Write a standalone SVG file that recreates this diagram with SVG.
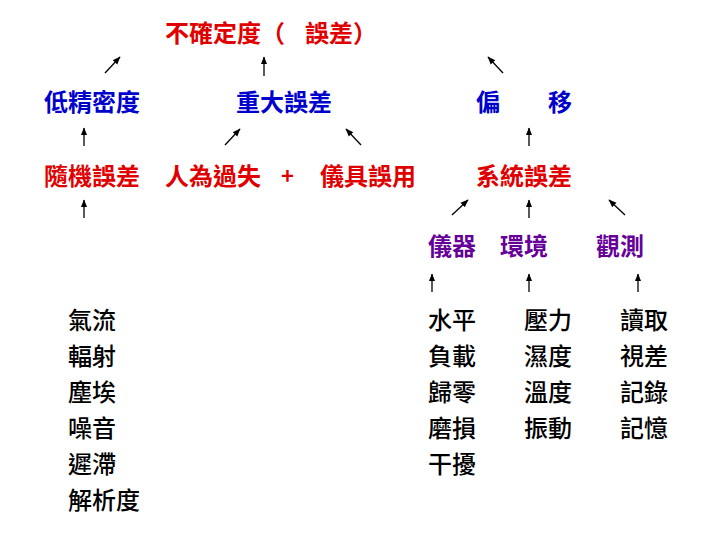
<svg xmlns="http://www.w3.org/2000/svg" width="720" height="540" viewBox="0 0 720 540">
<style>
text{font-family:"Noto Sans CJK TC","Noto Sans CJK SC",sans-serif;font-size:24px}
.r{fill:#e00000;font-weight:700}
.b{fill:#0000cc;font-weight:700}
.p{fill:#660099;font-weight:700}
.k{fill:#000;font-weight:500}
.c line{stroke:#000;stroke-width:1.3;marker-end:url(#ah)}
</style>
<defs>
<marker id="ah" markerUnits="userSpaceOnUse" markerWidth="9" markerHeight="9" refX="6.5" refY="4" orient="auto" viewBox="0 0 8 8">
<path d="M0,1.2 L7,4 L0,6.8 Z" fill="#000"/>
</marker>
</defs>
<rect width="720" height="540" fill="#fff"/>
<g id="title"><text class="r" x="165" y="42">不確定度（ <tspan x="305">誤差）</tspan></text></g>
<g id="n-low"><text class="b" x="44" y="111">低精密度</text></g>
<g id="n-major"><text class="b" x="236" y="111">重大誤差</text></g>
<g id="n-bias"><text class="b" x="476" y="111">偏</text><text class="b" x="548" y="111">移</text></g>
<g id="n-random"><text class="r" x="44" y="185">隨機誤差</text></g>
<g id="n-human"><text class="r" x="165" y="185">人為過失</text></g>
<g id="n-plus"><text class="r" x="281" y="184" style="font-size:22px">+</text></g>
<g id="n-misuse"><text class="r" x="320" y="185">儀具誤用</text></g>
<g id="n-system"><text class="r" x="476" y="185">系統誤差</text></g>
<g id="n-inst"><text class="p" x="428" y="255">儀器</text></g>
<g id="n-env"><text class="p" x="500" y="255">環境</text></g>
<g id="n-obs"><text class="p" x="596" y="255">觀測</text></g>
<g id="list-random">
<text class="k" x="68" y="329">氣流</text>
<text class="k" x="68" y="365">輻射</text>
<text class="k" x="68" y="401">塵埃</text>
<text class="k" x="68" y="437">噪音</text>
<text class="k" x="68" y="473">遲滯</text>
<text class="k" x="68" y="509">解析度</text>
</g>
<g id="list-inst">
<text class="k" x="428" y="329">水平</text>
<text class="k" x="428" y="365">負載</text>
<text class="k" x="428" y="401">歸零</text>
<text class="k" x="428" y="437">磨損</text>
<text class="k" x="428" y="473">干擾</text>
</g>
<g id="list-env">
<text class="k" x="524" y="329">壓力</text>
<text class="k" x="524" y="365">濕度</text>
<text class="k" x="524" y="401">溫度</text>
<text class="k" x="524" y="437">振動</text>
</g>
<g id="list-obs">
<text class="k" x="620" y="329">讀取</text>
<text class="k" x="620" y="365">視差</text>
<text class="k" x="620" y="401">記錄</text>
<text class="k" x="620" y="437">記憶</text>
</g>
<g id="connectors" class="c">
<line x1="105" y1="73" x2="120" y2="57"/>
<line x1="264" y1="76" x2="264" y2="57"/>
<line x1="503" y1="73" x2="488" y2="57"/>
<line x1="84" y1="146" x2="84" y2="128"/>
<line x1="225" y1="145" x2="240" y2="129"/>
<line x1="361" y1="145" x2="346" y2="129"/>
<line x1="529" y1="146" x2="529" y2="128"/>
<line x1="84" y1="218" x2="84" y2="200"/>
<line x1="452" y1="215" x2="468" y2="200"/>
<line x1="529" y1="218" x2="529" y2="200"/>
<line x1="625" y1="215" x2="609" y2="200"/>
<line x1="432" y1="292" x2="432" y2="274"/>
<line x1="529" y1="292" x2="529" y2="274"/>
<line x1="638" y1="292" x2="638" y2="274"/>
</g>
</svg>
